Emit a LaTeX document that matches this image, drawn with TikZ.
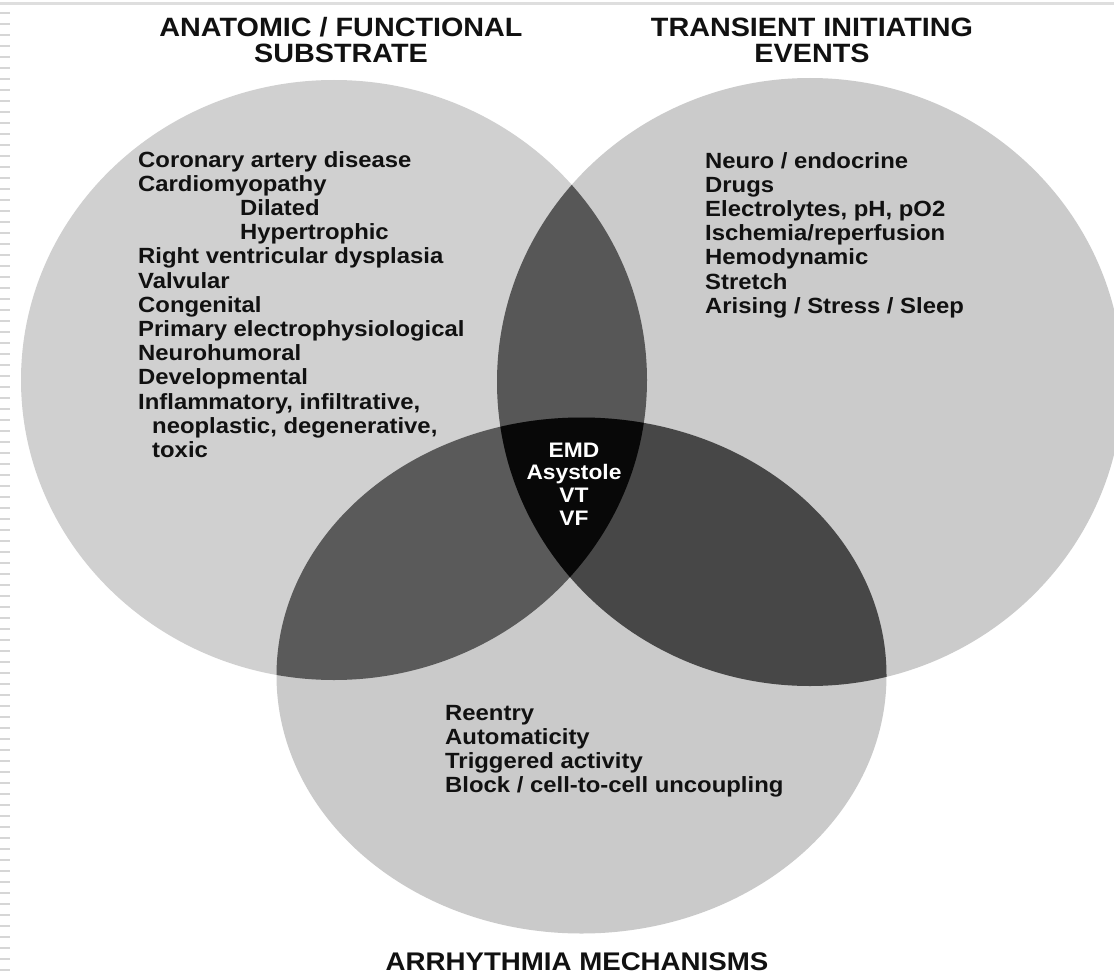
\documentclass[tikz,border=0pt]{standalone}
\usepackage{fontspec}
\setmainfont{Liberation Sans}[FakeStretch=1.085]
\definecolor{gL}{HTML}{D0D0D0}
\definecolor{gR}{HTML}{CBCBCB}
\definecolor{gB}{HTML}{CACACA}
\definecolor{gLR}{HTML}{575757}
\definecolor{gLB}{HTML}{5A5A5A}
\definecolor{gRB}{HTML}{474747}
\definecolor{gLRB}{HTML}{080808}
\definecolor{ink}{HTML}{111111}
\begin{document}
\begin{tikzpicture}[x=1pt,y=-1pt,
  ellL/.style={insert path={(cL) ellipse [x radius=313pt, y radius=300pt]}},
  ellR/.style={insert path={(cR) ellipse [x radius=313pt, y radius=304pt]}},
  ellB/.style={insert path={(cB) ellipse [x radius=305pt, y radius=258pt]}},
  item/.style={anchor=base west, inner sep=0pt, text=ink, font=\bfseries\fontsize{22}{24}\selectfont},
  head/.style={anchor=base, inner sep=0pt, text=ink, font=\bfseries\fontsize{26.5}{28}\selectfont},
  core/.style={anchor=base, inner sep=0pt, text=white, font=\bfseries\fontsize{21}{23}\selectfont}
]
\useasboundingbox (0,0) rectangle (1114,974);
\fill[white] (0,0) rectangle (1114,974);
\coordinate (cL) at (334,380);
\coordinate (cR) at (810,382);
\coordinate (cB) at (581.5,675.5);
% scan artefacts
\draw[black!13, line width=3pt] (0,4) -- (1114,4);
\draw[black!16, line width=10pt, dash pattern=on 2pt off 9pt] (5,12) -- (5,974);
\begin{scope}
  \clip (0,0) rectangle (1114,974);
  \fill[gL, ellL];
  \fill[gR, ellR];
  \fill[gB, ellB];
  \begin{scope}\clip[ellL]; \fill[gLR, ellR];\end{scope}
  \begin{scope}\clip[ellL]; \fill[gLB, ellB];\end{scope}
  \begin{scope}\clip[ellR]; \fill[gRB, ellB];\end{scope}
  \begin{scope}\clip[ellL]; \clip[ellR]; \fill[gLRB, ellB];\end{scope}
\end{scope}
% headings
\node[head] (hL1) at (341,37) {ANATOMIC / FUNCTIONAL};
\node[head] (hL2) at (341,63) {SUBSTRATE};
\node[head] (hR1) at (812,37) {TRANSIENT INITIATING};
\node[head] (hR2) at (812,63) {EVENTS};
\node[head, font=\bfseries\fontsize{25.5}{28}\selectfont] (hB) at (577,970) {ARRHYTHMIA MECHANISMS};
% substrate list
\foreach \t [count=\i from 0] in {Coronary artery disease, Cardiomyopathy,
  \hspace*{102pt}Dilated, \hspace*{102pt}Hypertrophic,
  Right ventricular dysplasia, Valvular, Congenital,
  Primary electrophysiological, Neurohumoral, Developmental,
  {Inflammatory, infiltrative,}, {\hspace*{14pt}neoplastic, degenerative,},
  \hspace*{14pt}toxic}
  \node[item] (sub\i) at (138,167+24.2*\i) {\t};
% transient events list
\foreach \t [count=\i from 0] in {Neuro / endocrine, Drugs, {Electrolytes, pH, pO2},
  Ischemia/reperfusion, Hemodynamic, Stretch, Arising / Stress / Sleep}
  \node[item] (ev\i) at (705,168+24.2*\i) {\t};
% mechanisms list
\foreach \t [count=\i from 0] in {Reentry, Automaticity, Triggered activity,
  Block / cell-to-cell uncoupling}
  \node[item] (me\i) at (445,720+24*\i) {\t};
% core
\foreach \t [count=\i from 0] in {EMD, Asystole, VT, VF}
  \node[core] (core\i) at (574,457+22.7*\i) {\t};
\end{tikzpicture}
\end{document}
